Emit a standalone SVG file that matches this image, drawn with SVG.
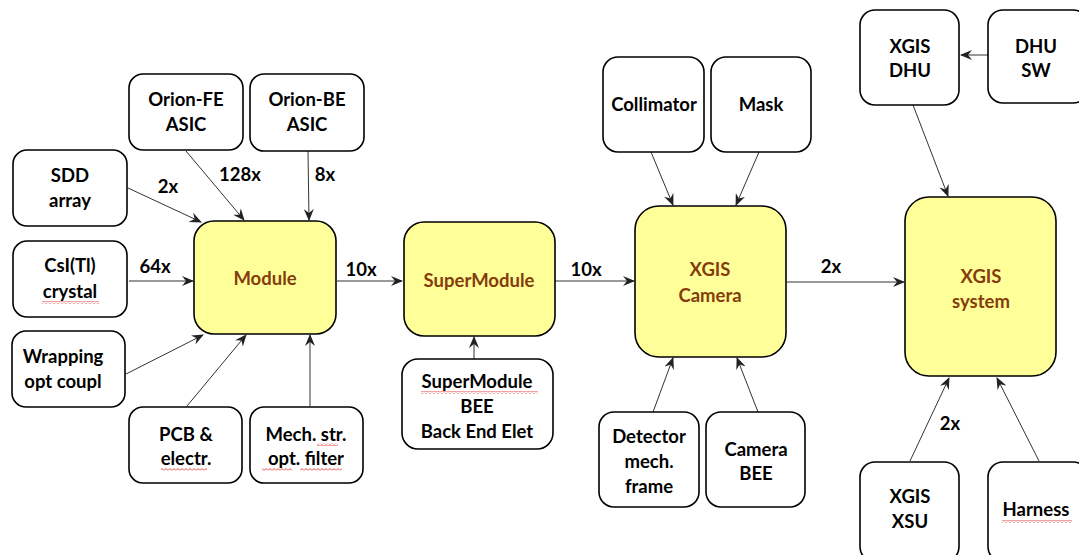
<svg xmlns="http://www.w3.org/2000/svg" width="1079" height="555" viewBox="0 0 1079 555">
<defs>
<marker id="ah" viewBox="0 0 12 10" refX="11" refY="5" markerWidth="12" markerHeight="10" markerUnits="userSpaceOnUse" orient="auto">
<path d="M0,0 L12,5 L0,10 L4,5 z" fill="#222"/>
</marker>
<pattern id="wave" x="0" y="0" width="4" height="3" patternUnits="userSpaceOnUse">
<path d="M0,2.5 L2,0.5 L4,2.5" fill="none" stroke="#e03030" stroke-width="0.9"/>
</pattern>
<style>
.b{fill:#fff;stroke:#000;stroke-width:1.6}
.y{fill:#ffff99;stroke:#000;stroke-width:1.6}
text{font-family:Lato,"Open Sans","Liberation Sans",sans-serif;font-weight:bold;font-size:18.5px;text-anchor:middle;fill:#000}
.yt{fill:#843c0c}
.c line{stroke:#333;stroke-width:1;marker-end:url(#ah)}
.w{fill:url(#wave)}
</style>
</defs>
<rect width="1079" height="555" fill="#fff"/>
<g class="c" id="connectors">
<line x1="128" y1="188" x2="201" y2="222"/>
<line x1="186" y1="151" x2="244" y2="220"/>
<line x1="308" y1="151" x2="309" y2="220"/>
<line x1="129" y1="281" x2="193" y2="281"/>
<line x1="126" y1="374" x2="203" y2="335"/>
<line x1="187" y1="406" x2="246" y2="335"/>
<line x1="310" y1="406" x2="310" y2="335"/>
<line x1="337" y1="281" x2="402" y2="281"/>
<line x1="555" y1="281" x2="634" y2="281"/>
<line x1="474" y1="359" x2="474" y2="337"/>
<line x1="651" y1="152" x2="673" y2="205"/>
<line x1="759" y1="152" x2="736" y2="205"/>
<line x1="787" y1="282" x2="904" y2="282"/>
<line x1="653" y1="412" x2="673" y2="358"/>
<line x1="758" y1="412" x2="737" y2="358"/>
<line x1="988" y1="55" x2="961" y2="55"/>
<line x1="913" y1="105" x2="948" y2="196"/>
<line x1="910" y1="461" x2="949" y2="378"/>
<line x1="1039" y1="461" x2="997" y2="378"/>
</g>
<g id="labels">
<text x="168" y="193">2x</text>
<text x="240" y="181">128x</text>
<text x="325" y="181">8x</text>
<text x="155" y="273">64x</text>
<text x="361" y="276">10x</text>
<text x="586" y="276">10x</text>
<text x="831" y="273">2x</text>
<text x="950" y="430">2x</text>
</g>
<g id="orion-fe"><rect class="b" x="129" y="74" width="114" height="76" rx="14"/><text x="186" y="106">Orion-FE</text><text x="186" y="131">ASIC</text></g>
<g id="orion-be"><rect class="b" x="250" y="74" width="114" height="77" rx="14"/><text x="307" y="106">Orion-BE</text><text x="307" y="131">ASIC</text></g>
<g id="sdd"><rect class="b" x="13" y="150" width="114" height="76" rx="14"/><text x="70" y="182">SDD</text><text x="70" y="207">array</text></g>
<g id="csi"><rect class="b" x="13" y="241" width="114" height="76" rx="14"/><text x="70" y="272">CsI(Tl)</text><text x="70" y="298">crystal</text><rect class="w" x="42" y="301" width="57" height="3"/></g>
<g id="wrapping"><rect class="b" x="12" y="331" width="113" height="76" rx="14"/><text x="63" y="363">Wrapping</text><text x="63" y="388">opt coupl</text></g>
<g id="pcb"><rect class="b" x="129" y="407" width="113" height="76" rx="14"/><text x="186" y="441">PCB &amp;</text><text x="186" y="465">electr.</text><rect class="w" x="161" y="468" width="46" height="3"/></g>
<g id="mech"><rect class="b" x="250" y="407" width="113" height="76" rx="14"/><text x="306" y="441">Mech. str.</text><text x="306" y="465">opt. filter</text><rect class="w" x="317" y="443" width="21" height="3"/><rect class="w" x="262" y="468" width="30" height="3"/><rect class="w" x="300" y="468" width="42" height="3"/></g>
<g id="module"><rect class="y" x="194" y="221" width="142" height="113" rx="20"/><text class="yt" x="265" y="285">Module</text></g>
<g id="supermodule"><rect class="y" x="404" y="222" width="151" height="114" rx="20"/><text class="yt" x="479" y="287">SuperModule</text></g>
<g id="smbee"><rect class="b" x="402" y="359" width="151" height="90" rx="16"/><text x="477" y="388">SuperModule</text><text x="477" y="413">BEE</text><text x="477" y="438">Back End Elet</text><rect class="w" x="421" y="391" width="117" height="3"/></g>
<g id="collimator"><rect class="b" x="603" y="57" width="101" height="95" rx="15"/><text x="654" y="111">Collimator</text></g>
<g id="mask"><rect class="b" x="711" y="57" width="100" height="95" rx="15"/><text x="761" y="111">Mask</text></g>
<g id="camera"><rect class="y" x="635" y="206" width="151" height="151" rx="24"/><text class="yt" x="710" y="276">XGIS</text><text class="yt" x="710" y="302">Camera</text></g>
<g id="detframe"><rect class="b" x="599" y="412" width="100" height="95" rx="15"/><text x="649" y="443">Detector</text><text x="649" y="468">mech.</text><text x="649" y="493">frame</text></g>
<g id="cambee"><rect class="b" x="706" y="412" width="99" height="95" rx="15"/><text x="756" y="456">Camera</text><text x="756" y="480">BEE</text></g>
<g id="dhu"><rect class="b" x="860" y="10" width="99" height="95" rx="15"/><text x="910" y="53">XGIS</text><text x="910" y="77">DHU</text></g>
<g id="dhusw"><rect class="b" x="988" y="10" width="100" height="93" rx="15"/><text x="1036" y="53">DHU</text><text x="1036" y="77">SW</text></g>
<g id="system"><rect class="y" x="905" y="197" width="151" height="179" rx="24"/><text class="yt" x="981" y="283">XGIS</text><text class="yt" x="981" y="308">system</text></g>
<g id="xsu"><rect class="b" x="860" y="462" width="99" height="100" rx="15"/><text x="910" y="503">XGIS</text><text x="910" y="528">XSU</text></g>
<g id="harness"><rect class="b" x="988" y="462" width="100" height="100" rx="15"/><text x="1036" y="516">Harness</text><rect class="w" x="1002" y="520" width="70" height="3"/></g>
</svg>
